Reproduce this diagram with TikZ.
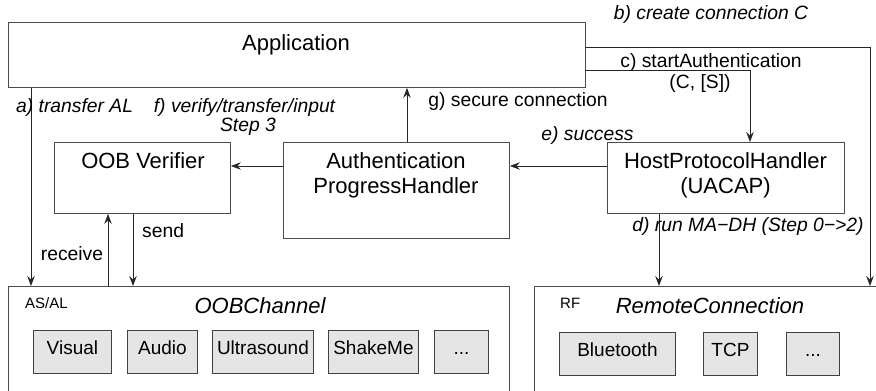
\documentclass[tikz,border=0pt]{standalone}
\usepackage{fontspec}
\setmainfont{Liberation Sans}
\usetikzlibrary{arrows.meta}

\newcommand\moredots{...}

\begin{document}
\begin{tikzpicture}[x=1pt, y=-1pt,
  box/.style={draw=black!70, line width=0.9pt, inner sep=0pt, anchor=north west},
  subbox/.style={draw=black!75, fill=black!10, line width=0.9pt, inner sep=0pt,
    anchor=north west, minimum height=43pt, text height=13pt, text depth=7pt,
    font=\fontsize{19}{22}\selectfont},
  big/.style={anchor=base, inner sep=0pt, font=\fontsize{22}{26}\selectfont},
  bigit/.style={big, font=\fontsize{22}{26}\selectfont\itshape},
  small/.style={anchor=base, inner sep=0pt, font=\fontsize{19.3}{22}\selectfont},
  note/.style={small, font=\fontsize{19.3}{22}\selectfont\itshape},
  tag/.style={anchor=base west, inner sep=0pt, font=\fontsize{15}{18}\selectfont},
  arr/.style={black!85, line width=0.9pt, -{Stealth[length=10pt, width=7.5pt, inset=3.5pt]}}]

\useasboundingbox (0,0) rectangle (876,391);

% components
\node[box, minimum width=577pt, minimum height=65pt] (app) at (8,22) {};
\node[big] (app-t) at (296,50.5) {Application};

\node[box, minimum width=176pt, minimum height=71pt] (verifier) at (54,142) {};
\node[big] (verifier-t) at (143,168) {OOB Verifier};

\node[box, minimum width=226pt, minimum height=96pt] (aph) at (283,142) {};
\node[big] (aph-t1) at (396,168) {Authentication};
\node[big] (aph-t2) at (396,193) {ProgressHandler};

\node[box, minimum width=237pt, minimum height=71pt] (hph) at (607,142) {};
\node[big] (hph-t1) at (725.5,168) {HostProtocolHandler};
\node[big] (hph-t2) at (725.5,193) {(UACAP)};

% channels, cut off at the bottom
\node[box, minimum width=501pt, minimum height=140pt] (oobch) at (8,286) {};
\node[tag] (asal) at (25,308) {AS/AL};
\node[bigit] (oobch-t) at (260,313) {OOBChannel};
\foreach \name/\x/\w/\txt in {visual/33/78/Visual, audio/127/70/Audio,
    ultra/212/101/Ultrasound, shake/328/90/ShakeMe, oobmore/434/54/\moredots}
  \node[subbox, minimum width=\w pt] (\name) at (\x,330) {\txt};

\node[box, minimum width=370pt, minimum height=140pt] (remote) at (534,286) {};
\node[tag] (rf) at (560,308) {RF};
\node[bigit] (remote-t) at (710,313) {RemoteConnection};
\foreach \name/\x/\w/\txt in {bt/559/116/Bluetooth, tcp/703/54/TCP, rcmore/786/53/\moredots}
  \node[subbox, minimum width=\w pt] (\name) at (\x,332) {\txt};

% calls
\draw[arr] (app.south -| 31,0) -- (oobch.north -| 31,0);
\node[note, anchor=base west] (la) at (16,112) {a) transfer AL};

\draw[arr] (app.east |- 0,47) -| (remote.north -| 870,0);
\node[note] (lb) at (711,19) {b) create connection C};

\draw[arr] (app.east |- 0,70) -| (hph.north -| 750,0);
\node[small] (lc1) at (711,67) {c) startAuthentication};
\node[small] (lc2) at (700,88) {(C, [S])};

\draw[arr] (hph.south -| 659,0) -- (remote.north -| 659,0);
\node[note] (ld) at (748,231) {d) run MA−DH (Step 0−>2)};

\draw[arr] (hph.west |- 0,166) -- (aph.east |- 0,166);
\node[note] (le) at (587.5,140) {e) success};

\draw[arr] (aph.west |- 0,166) -- (verifier.east |- 0,166);
\node[note] (lf1) at (244.5,112) {f) verify/transfer/input};
\node[note] (lf2) at (248,131) {Step 3};

\draw[arr] (aph.north -| 407,0) -- (app.south -| 407,0);
\node[small] (lg) at (518,106) {g) secure connection};

\draw[arr] (oobch.north -| 108,0) -- (verifier.south -| 108,0);
\node[small] (lrecv) at (72,260) {receive};
\draw[arr] (verifier.south -| 133,0) -- (oobch.north -| 133,0);
\node[small, anchor=base west] (lsend) at (142,237) {send};
\end{tikzpicture}
\end{document}
